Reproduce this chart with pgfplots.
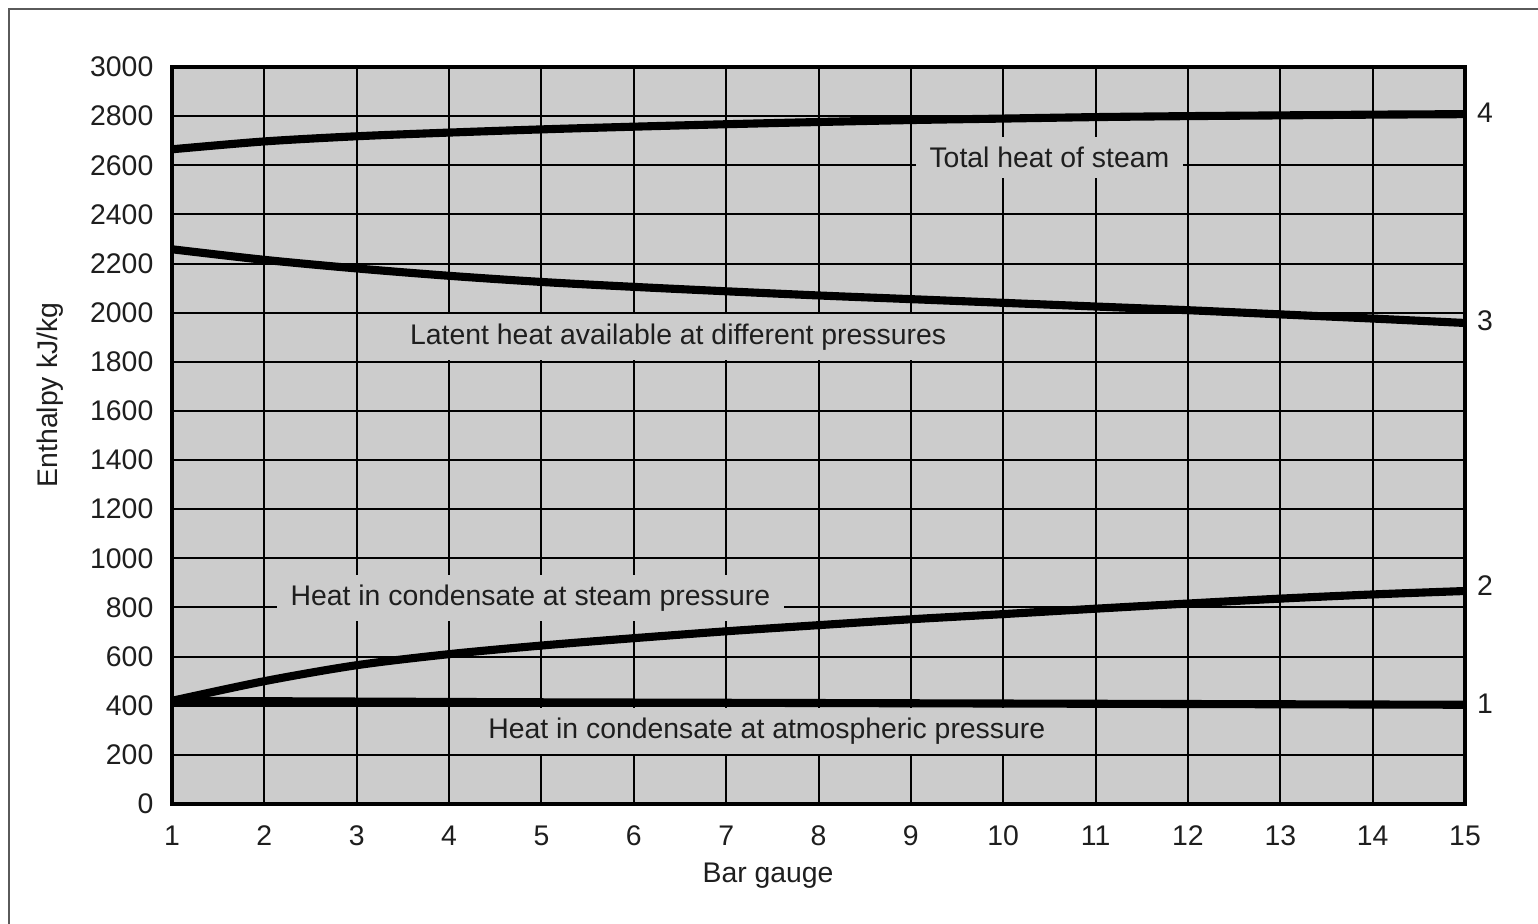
\documentclass[border=0pt]{standalone}
\usepackage{pgfplots}
\pgfplotsset{compat=1.18}
\usepackage{fontspec}
\setmainfont{Liberation Sans}
\definecolor{chartgray}{RGB}{204,204,204}
\definecolor{framegray}{RGB}{90,90,90}
\definecolor{txt}{RGB}{30,30,30}
\begin{document}
\begin{tikzpicture}
\begin{axis}[
  name=ax,
  scale only axis,
  width=13.451cm, height=7.667cm,
  xmin=1, xmax=15, ymin=0, ymax=3000,
  xtick={1,...,15}, ytick={0,200,...,3000},
  grid=major,
  major grid style={black, line width=0.6pt},
  axis line style={black, line width=1.3pt},
  axis background/.style={fill=chartgray},
  major tick length=0pt,
  tick label style={font=\fontsize{8.4}{10}\selectfont, text=txt},
  /pgf/number format/assume math mode=true,
  /pgf/number format/1000 sep={},
  yticklabel style={xshift=-2pt},
  xticklabel style={yshift=-3pt},
  clip=false,
]
\addplot[black, line width=2.4pt, smooth] coordinates {
 (1,2665) (2,2697) (3,2718) (4,2733) (5,2746) (6,2757) (7,2767) (8,2776) (9,2784) (10,2790) (11,2796) (12,2800) (13,2803) (14,2806) (15,2808)};
\addplot[black, line width=2.4pt, smooth] coordinates {
 (1,2258) (2,2215) (3,2180) (4,2150) (5,2125) (6,2105) (7,2087) (8,2070) (9,2055) (10,2040) (11,2025) (12,2010) (13,1993) (14,1976) (15,1958)};
\addplot[black, line width=2.4pt, smooth] coordinates {
 (1,420) (2,500) (3,565) (4,610) (5,645) (6,675) (7,703) (8,728) (9,752) (10,773) (11,795) (12,816) (13,836) (14,853) (15,867)};
\addplot[black, line width=2.4pt, smooth] coordinates {
 (1,420) (3,417) (5,414) (7,412) (9,410) (11,408) (13,406) (15,404)};
\begin{scope}[every node/.style={font=\fontsize{8.4}{10}\selectfont, text=txt}]
\node[fill=chartgray, inner xsep=4pt, inner ysep=3pt] at (axis cs:10.5,2633) {Total heat of steam};
\node[fill=chartgray, inner xsep=4pt, inner ysep=3pt] at (axis cs:6.48,1901) {Latent heat available at different pressures};
\node[fill=chartgray, inner xsep=4pt, inner ysep=3pt] at (axis cs:4.88,838) {Heat in condensate at steam pressure};
\node[fill=chartgray, inner xsep=4pt, inner ysep=3pt] at (axis cs:7.44,297) {Heat in condensate at atmospheric pressure};
\node at (rel axis cs:1.0155,0.9386) {4};
\node at (rel axis cs:1.0155,0.6553) {3};
\node at (rel axis cs:1.0155,0.2958) {2};
\node at (rel axis cs:1.0155,0.1357) {1};
\node[rotate=90] at (rel axis cs:-0.0944,0.555) {Enthalpy kJ/kg};
\node at (rel axis cs:0.461,-0.0977) {Bar gauge};
\end{scope}
\draw[framegray, line width=0.6pt] (rel axis cs:-0.1261,-0.2) -- (rel axis cs:-0.1261,1.0787) -- (rel axis cs:1.1,1.0787);
\coordinate (bbsw) at (rel axis cs:-0.13302,-0.16147);
\coordinate (bbne) at (rel axis cs:1.05646,1.09091);
\end{axis}
\pgfresetboundingbox
\useasboundingbox (bbsw) rectangle (bbne);
\end{tikzpicture}
\end{document}
